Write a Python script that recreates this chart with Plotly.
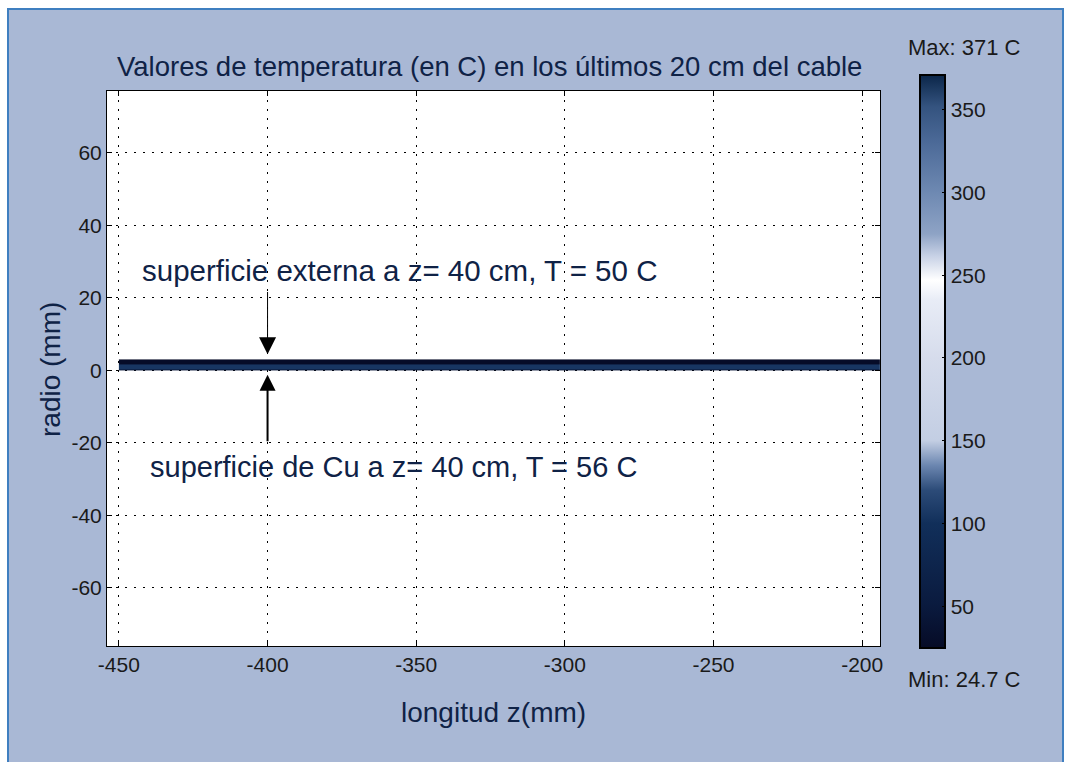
import plotly.graph_objects as go

# ---- data ----
z_edges = [-450, -194]                 # longitud z (mm), band extent
r_edges = [0.0, 0.35, 1.7, 3.0]        # radio (mm)
row_temps = [45, 105, 27]              # temperature per radial layer (C)
t_min, t_max = 24.7, 371
x_ticks = [-450, -400, -350, -300, -250, -200]
x_labels = ["-450", "-400", "-350", "-300", "-250", "-200"]
y_ticks = [-60, -40, -20, 0, 20, 40, 60]
y_labels = ["-60", "-40", "-20", "0", "20", "40", "60"]
cb_ticks = [50, 100, 150, 200, 250, 300, 350]
arrow_z = -400
ext_arrow = (22, 4.4)      # tail, tip (radio)
cu_arrow = (-20, -1.2)
label_ext = "superficie externa a z= 40 cm, T = 50 C"
label_cu = "superficie de Cu a z= 40 cm, T = 56 C"
title = "Valores de temperatura (en C) en los últimos 20 cm del cable"

def nrm(v):
    return (v - t_min) / (t_max - t_min)

cscale = [
    [nrm(24.7), "#060b26"],
    [nrm(50), "#0a1a3e"],
    [nrm(100), "#112f5a"],
    [nrm(120), "#2c4b78"],
    [nrm(135), "#6b86b0"],
    [nrm(150), "#c3cee3"],
    [nrm(200), "#d6dcec"],
    [nrm(235), "#e8ecf6"],
    [nrm(247), "#ffffff"],
    [nrm(262), "#c6d0e5"],
    [nrm(275), "#8ea3c5"],
    [nrm(300), "#6e89b2"],
    [nrm(330), "#4c6a98"],
    [nrm(352), "#34537f"],
    [nrm(371), "#0b2649"],
]

z_vals = [[t, t] for t in row_temps]
fig = go.Figure()
fig.add_trace(go.Heatmap(
    x=[z_edges[0], (z_edges[0] + z_edges[1]) / 2, z_edges[1]],
    y=r_edges,
    z=z_vals,
    zmin=t_min, zmax=t_max,
    colorscale=cscale,
    hoverinfo="skip",
    colorbar=dict(
        x=1.0517, xanchor="left", xpad=0,
        y=0.5126, yanchor="middle", ypad=0,
        len=1.032, lenmode="fraction",
        thickness=25, thicknessmode="pixels",
        outlinecolor="black", outlinewidth=2,
        tickvals=cb_ticks, ticks="inside", ticklen=4, tickcolor="black",
        tickfont=dict(family="Liberation Sans", size=21, color="#1a1a1a"),
    ),
))

PX0, PW, PY0, PH = 107, 773, 91, 555

def paper_x(px):
    return (px - PX0) / PW

def paper_y(py):
    return (PY0 + PH - py) / PH

axis_common = dict(
    showline=True, linecolor="black", linewidth=1, mirror="allticks",
    ticks="inside", ticklen=5, tickcolor="black",
    showgrid=True, gridcolor="black", gridwidth=1, griddash="2px,7px",
    zeroline=False,
    tickfont=dict(family="Liberation Sans", size=21, color="#1a1a1a"),
)

fig.update_xaxes(range=[-454, -194], tickvals=x_ticks, ticktext=x_labels, **axis_common)
fig.update_yaxes(range=[-76, 77], tickvals=y_ticks, ticktext=y_labels, **axis_common)

navy = "#0f2246"
annots = [
    dict(text=title, x=paper_x(489), y=paper_y(66), xref="paper", yref="paper",
         showarrow=False, xanchor="center", yanchor="middle",
         font=dict(family="Liberation Sans", size=27.5, color=navy)),
    dict(text="longitud z(mm)", x=paper_x(493), y=paper_y(712), xref="paper", yref="paper",
         showarrow=False, xanchor="center", yanchor="middle",
         font=dict(family="Liberation Sans", size=28, color=navy)),
    dict(text="radio (mm)", x=paper_x(50), y=paper_y(370), xref="paper", yref="paper",
         showarrow=False, xanchor="center", yanchor="middle", textangle=-90,
         font=dict(family="Liberation Sans", size=28, color=navy)),
    dict(text="Max: 371 C", x=paper_x(965), y=paper_y(48), xref="paper", yref="paper",
         showarrow=False, xanchor="center", yanchor="middle",
         font=dict(family="Liberation Sans", size=22, color="#1a1a1a")),
    dict(text="Min: 24.7 C", x=paper_x(965), y=paper_y(679), xref="paper", yref="paper",
         showarrow=False, xanchor="center", yanchor="middle",
         font=dict(family="Liberation Sans", size=22, color="#1a1a1a")),
    dict(text=label_ext, x=-442.9, y=27.6, xref="x", yref="y",
         showarrow=False, xanchor="left", yanchor="middle",
         font=dict(family="Liberation Sans", size=29.5, color=navy)),
    dict(text=label_cu, x=-440.2, y=-26.7, xref="x", yref="y",
         showarrow=False, xanchor="left", yanchor="middle",
         font=dict(family="Liberation Sans", size=29, color=navy)),
    dict(text="", x=arrow_z, y=ext_arrow[1], ax=arrow_z, ay=ext_arrow[0],
         xref="x", yref="y", axref="x", ayref="y",
         showarrow=True, arrowhead=2, arrowsize=3.4, arrowwidth=1, arrowcolor="black"),
    dict(text="", x=arrow_z, y=cu_arrow[1], ax=arrow_z, ay=cu_arrow[0],
         xref="x", yref="y", axref="x", ayref="y",
         showarrow=True, arrowhead=2, arrowsize=1.6, arrowwidth=2, arrowcolor="black"),
]

shapes = [
    dict(type="rect", xref="paper", yref="paper", layer="below",
         x0=paper_x(8), x1=paper_x(1063), y0=paper_y(780), y1=paper_y(9),
         fillcolor="#a9b8d5", line=dict(color="#3f7fc0", width=2)),
    dict(type="rect", xref="paper", yref="paper", layer="below",
         x0=0, x1=1, y0=0, y1=1, fillcolor="white", line=dict(width=0)),
]

fig.update_layout(
    width=1068, height=762,
    margin=dict(l=PX0, r=1068 - PX0 - PW, t=PY0, b=762 - PY0 - PH, pad=0),
    paper_bgcolor="white", plot_bgcolor="white",
    annotations=annots, shapes=shapes, showlegend=False,
)

fig.write_html("out.html")
